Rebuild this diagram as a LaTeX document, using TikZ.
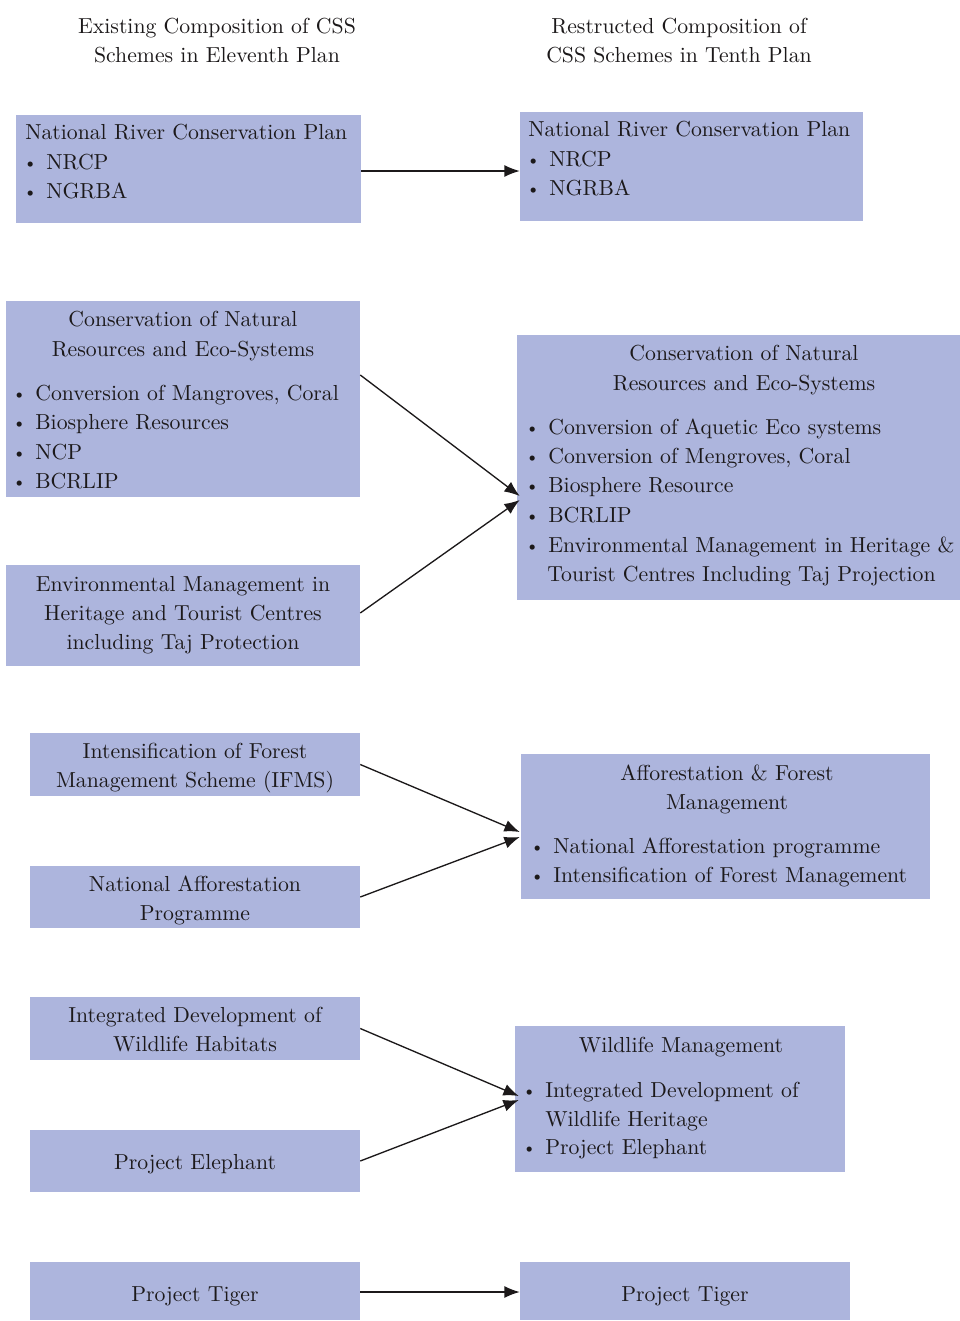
\documentclass[tikz,border=0pt]{standalone}
\usepackage{graphicx}
\usetikzlibrary{fit,calc,arrows.meta}
\definecolor{boxblue}{RGB}{173,181,221}
\definecolor{ink}{RGB}{28,25,26}
\newcommand\tx[1]{\scalebox{1.63}{#1}}
\newcommand\bul{\makebox[0pt][c]{\raisebox{0.2pt}{\fontsize{8}{8}\selectfont\textbullet}}\hspace{7.4pt}}
\begin{document}
\begin{tikzpicture}[x=0.75pt,y=-0.75pt,
  box/.style={fill=boxblue,draw=none,inner sep=0pt},
  txt/.style={inner sep=0pt,font=\fontsize{10}{12}\selectfont,text=ink},
  ctr/.style={txt,anchor=base},
  lft/.style={txt,anchor=base west},
  arr/.style={draw=ink,line width=1pt,-{Latex[length=11.5pt,width=9pt]}}]
\useasboundingbox (0,0) rectangle (960,1321);
\fill[white] (0,0) rectangle (960,1321);

% headers
\node[ctr] (h1a) at (217,33) {\tx{Existing Composition of CSS}};
\node[ctr] (h1b) at (217,62) {\tx{Schemes in Eleventh Plan}};
\node[ctr] (h2a) at (679,33) {\tx{Restructed Composition of}};
\node[ctr] (h2b) at (679,62) {\tx{CSS Schemes in Tenth Plan}};

% boxes
\node[box,fit={(16,115)(361,223)}] (L1) {};
\node[box,fit={(520,112)(863,221)}] (R1) {};
\node[box,fit={(6,301)(360,497)}] (L2) {};
\node[box,fit={(6,565)(360,666)}] (L3) {};
\node[box,fit={(517,335)(960,600)}] (R2) {};
\node[box,fit={(30,733)(360,796)}] (L4) {};
\node[box,fit={(30,866)(360,928)}] (L5) {};
\node[box,fit={(521,754)(930,899)}] (R3) {};
\node[box,fit={(30,997)(360,1060)}] (L6) {};
\node[box,fit={(30,1130)(360,1192)}] (L7) {};
\node[box,fit={(515,1026)(845,1172)}] (R4) {};
\node[box,fit={(30,1262)(360,1320)}] (L8) {};
\node[box,fit={(520,1262)(850,1320)}] (R8) {};

% L1
\node[lft] (l1t) at (25,139) {\tx{National River Conservation Plan}};
\node[lft] (l1a) at (30,169) {\tx{\bul NRCP}};
\node[lft] (l1b) at (30,198) {\tx{\bul NGRBA}};
% R1
\node[lft] (r1t) at (528,136) {\tx{National River Conservation Plan}};
\node[lft] (r1a) at (533,166) {\tx{\bul NRCP}};
\node[lft] (r1b) at (533,195) {\tx{\bul NGRBA}};
% L2
\node[ctr] (l2t1) at (183,326) {\tx{Conservation of Natural}};
\node[ctr] (l2t2) at (183,356) {\tx{Resources and Eco-Systems}};
\node[lft] (l2a) at (19,400) {\tx{\bul Conversion of Mangroves, Coral}};
\node[lft] (l2b) at (19,429) {\tx{\bul Biosphere Resources}};
\node[lft] (l2c) at (19,459) {\tx{\bul NCP}};
\node[lft] (l2d) at (19,488) {\tx{\bul BCRLIP}};
% L3
\node[ctr] (l3a) at (183,591) {\tx{Environmental Management in}};
\node[ctr] (l3b) at (183,620) {\tx{Heritage and Tourist Centres}};
\node[ctr] (l3c) at (183,649) {\tx{including Taj Protection}};
% R2
\node[ctr] (r2t1) at (744,360) {\tx{Conservation of Natural}};
\node[ctr] (r2t2) at (744,390) {\tx{Resources and Eco-Systems}};
\node[lft] (r2a) at (532,434) {\tx{\bul Conversion of Aquetic Eco systems}};
\node[lft] (r2b) at (532,463) {\tx{\bul Conversion of Mengroves, Coral}};
\node[lft] (r2c) at (532,492) {\tx{\bul Biosphere Resource}};
\node[lft] (r2d) at (532,522) {\tx{\bul BCRLIP}};
\node[lft] (r2e) at (532,552) {\tx{\bul Environmental Management in Heritage \&}};
\node[lft] (r2f) at (547,581) {\tx{Tourist Centres Including Taj Projection}};
% L4, L5
\node[ctr] (l4a) at (195,758) {\tx{Intensification of Forest}};
\node[ctr] (l4b) at (195,787) {\tx{Management Scheme (IFMS)}};
\node[ctr] (l5a) at (195,891) {\tx{National Afforestation}};
\node[ctr] (l5b) at (195,920) {\tx{Programme}};
% R3
\node[ctr] (r3t1) at (727,780) {\tx{Afforestation \& Forest}};
\node[ctr] (r3t2) at (727,809) {\tx{Management}};
\node[lft] (r3a) at (537,853) {\tx{\bul National Afforestation programme}};
\node[lft] (r3b) at (537,882) {\tx{\bul Intensification of Forest Management}};
% L6, L7
\node[ctr] (l6a) at (195,1022) {\tx{Integrated Development of}};
\node[ctr] (l6b) at (195,1051) {\tx{Wildlife Habitats}};
\node[ctr] (l7a) at (195,1169) {\tx{Project Elephant}};
% R4
\node[ctr] (r4t) at (681,1052) {\tx{Wildlife Management}};
\node[lft] (r4a) at (529,1097) {\tx{\bul Integrated Development of}};
\node[lft] (r4b) at (545,1126) {\tx{Wildlife Heritage}};
\node[lft] (r4c) at (529,1154) {\tx{\bul Project Elephant}};
% L8, R8
\node[ctr] (l8a) at (195,1301) {\tx{Project Tiger}};
\node[ctr] (r8a) at (685,1301) {\tx{Project Tiger}};

% arrows
\draw[arr] ($(L1.east)+(0,2)$) -- ($(R1.west)+(0,4.5)$);
\draw[arr] ($(L2.east)+(0,-24)$) -- ($(R2.west)+(3,28.5)$);
\draw[arr] ($(L3.east)+(0,-2.5)$) -- ($(R2.west)+(3,32.5)$);
\draw[arr] ($(L4.east)+(0,0)$) -- ($(R3.west)+(-1,5.5)$);
\draw[arr] ($(L5.east)+(0,0)$) -- ($(R3.west)+(-1,10.5)$);
\draw[arr] ($(L6.east)+(0,0)$) -- ($(R4.west)+(4,-3)$);
\draw[arr] ($(L7.east)+(0,0)$) -- ($(R4.west)+(4,1)$);
\draw[arr] ($(L8.east)+(0,1)$) -- ($(R8.west)+(0,1)$);
\end{tikzpicture}
\end{document}
